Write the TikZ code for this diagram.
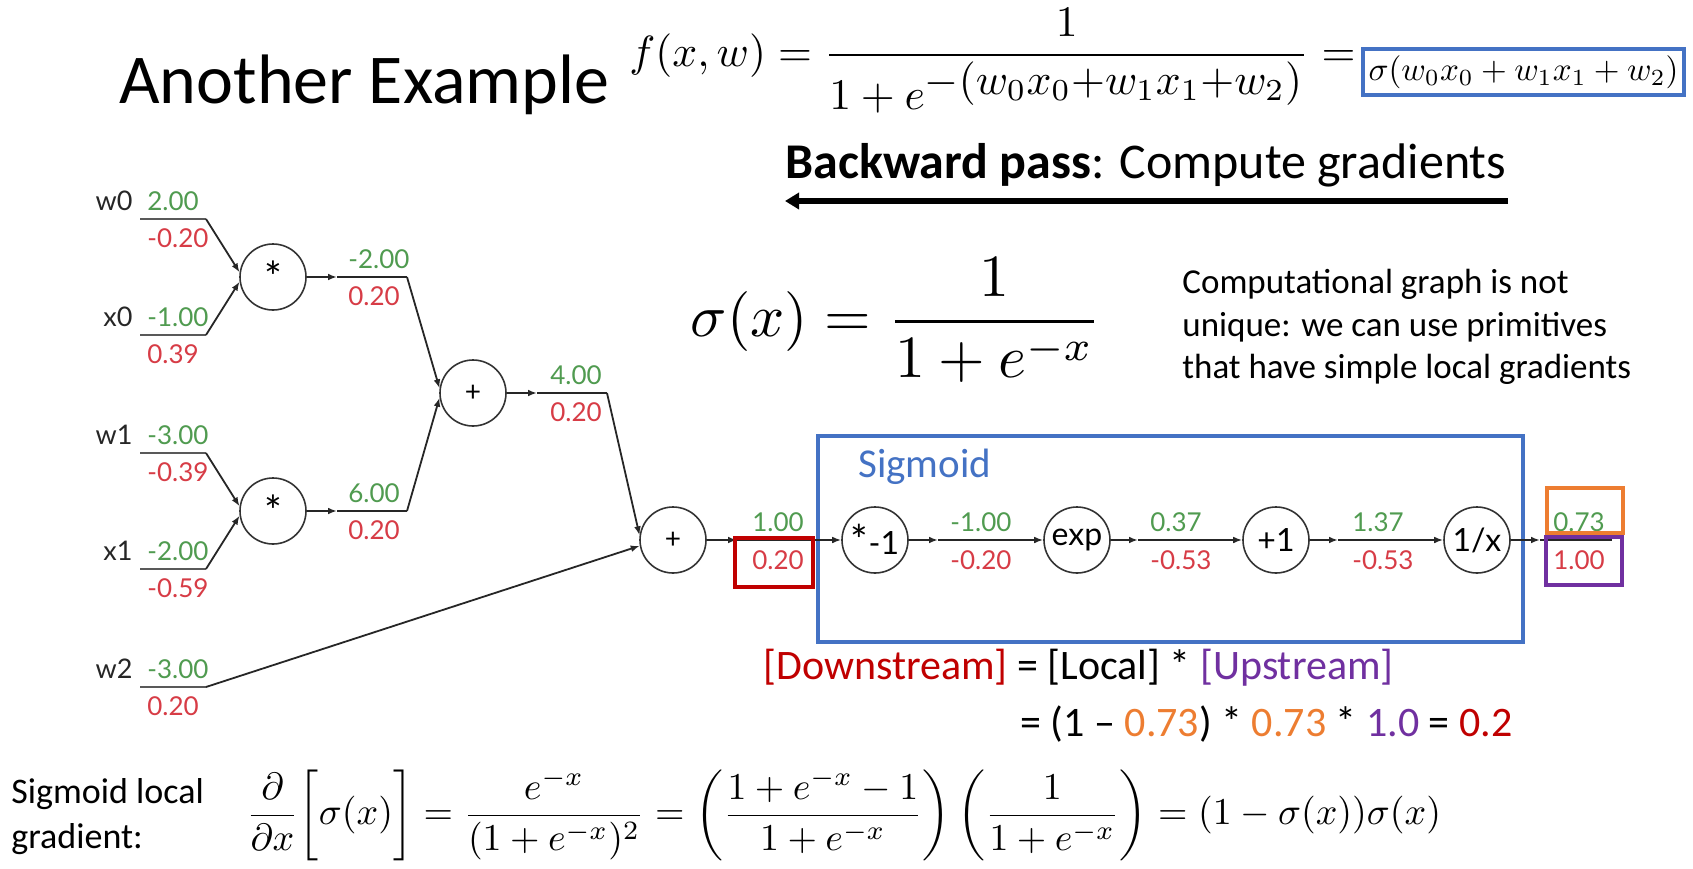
\documentclass[tikz,border=0pt]{standalone}
\usepackage{amsmath}
\usepackage{graphicx}
\usepackage[no-math]{fontspec}
\setmainfont{Carlito}
\newfontfamily\gfont{Lato}
\usetikzlibrary{arrows.meta}
\definecolor{gval}{RGB}{80,155,80}
\definecolor{rval}{RGB}{215,60,70}
\definecolor{boxblue}{RGB}{68,114,196}
\definecolor{boxred}{RGB}{192,0,0}
\definecolor{boxorange}{RGB}{237,125,49}
\definecolor{boxpurple}{RGB}{112,48,160}
\tikzset{
  opnode/.style={circle, draw=black!80, fill=white, line width=0.8pt, minimum size=33pt, inner sep=0pt, font=\gfont\fontsize{14}{14}\selectfont},
  sopnode/.style={opnode, font=\gfont\fontsize{16}{16}\selectfont},
  wire/.style={draw=black!85, line width=0.9pt},
  inwire/.style={draw=black!65, line width=1.4pt},
  arrowtip/.style={-{Latex[length=4.5pt,width=3.4pt]}},
  gv/.style={anchor=west, text=gval, font=\gfont\fontsize{13}{13}\selectfont, inner sep=0pt},
  rv/.style={gv, text=rval},
  vname/.style={anchor=east, text=black!85, font=\gfont\fontsize{13.5}{13.5}\selectfont, inner sep=0pt},
  txt/.style={anchor=base west, inner sep=0pt},
}
\newcommand{\astr}{\raisebox{-0.42em}{\scalebox{1.5}{*}}}
\begin{document}
\begin{tikzpicture}[x=0.5pt,y=-0.5pt]
\fill[white] (0,0) rectangle (1693,868);
\useasboundingbox (0,0) rectangle (1693,868);

% ---------- top texts ----------
\node[txt, font=\fontsize{35}{35}\selectfont] (title) at (119,103) {Another Example};
\node[anchor=west, inner sep=0pt] (fx) at (629,61)
  {\resizebox{363pt}{!}{$f(x,w)=\dfrac{1}{1+e^{\textstyle -(w_0x_0{+}w_1x_1{+}w_2)}}=$}};
\node[draw=boxblue, line width=2pt, inner sep=0pt, minimum width=160.5pt, minimum height=23pt] (sbox) at (1523.5,72)
  {\resizebox{155pt}{!}{$\sigma(w_0x_0+w_1x_1+w_2)$}};

\node[txt, font=\fontsize{25}{25}\selectfont] (bp) at (785,178) {\textbf{Backward pass}: Compute gradients};
\coordinate (bpr) at (1508,201);
\coordinate (bpl) at (785,201);
\draw[line width=3pt, -{Triangle[length=7pt,width=8pt]}] (bpr) -- (bpl);

\node[inner sep=0pt] (sigf) at (896,320)
  {\resizebox{205pt}{!}{$\sigma(x)=\dfrac{1}{1+e^{-x}}$}};

\node[txt, font=\fontsize{17.5}{17.5}\selectfont] (cg1) at (1182,293) {Computational graph is not};
\node[txt, font=\fontsize{17.5}{17.5}\selectfont] (cg2) at (1182,336) {unique: we can use primitives};
\node[txt, font=\fontsize{17.5}{17.5}\selectfont] (cg3) at (1182,378) {that have simple local gradients};

% ---------- boxes ----------
\draw[boxblue, line width=2.3pt] (818,436) rectangle (1523,642);
\node[txt, text=boxblue, font=\fontsize{20.5}{20.5}\selectfont] (sig) at (858,477) {Sigmoid};

% ---------- operation nodes ----------
\node[opnode] (m0) at (273,277) {\astr};
\node[opnode] (m1) at (273,511) {\astr};
\node[opnode] (p0) at (473,393) {+};
\node[opnode] (p1) at (673,540) {+};
\node[sopnode] (n1) at (875,540) {\raisebox{-0.05em}{\scalebox{1.3}{*}}-1};
\node[sopnode] (ex) at (1077,540) {exp};
\node[sopnode] (p2) at (1276,540) {+1};
\node[sopnode] (inv) at (1477,540) {1/x};

% ---------- inputs ----------
\coordinate (w0a) at (140,219); \coordinate (w0b) at (206,219);
\coordinate (x0a) at (140,335); \coordinate (x0b) at (206,335);
\coordinate (w1a) at (140,453); \coordinate (w1b) at (206,453);
\coordinate (x1a) at (140,569); \coordinate (x1b) at (206,569);
\coordinate (w2a) at (140,687); \coordinate (w2b) at (206,687);
\draw[inwire] (w0a) -- (w0b); \draw[wire,arrowtip] (w0b) -- (m0.172);
\draw[inwire] (x0a) -- (x0b); \draw[wire,arrowtip] (x0b) -- (m0.188);
\draw[inwire] (w1a) -- (w1b); \draw[wire,arrowtip] (w1b) -- (m1.172);
\draw[inwire] (x1a) -- (x1b); \draw[wire,arrowtip] (x1b) -- (m1.188);
\draw[inwire] (w2a) -- (w2b); \draw[wire,arrowtip] (w2b) -- (p1.190);

% ---------- internal edges ----------
\coordinate (m0m) at (337,277); \coordinate (m0c) at (407,277);
\coordinate (m1m) at (337,511); \coordinate (m1c) at (407,511);
\coordinate (p0m) at (537,393); \coordinate (p0c) at (607,393);
\draw[wire,arrowtip] (m0) -- (m0m); \draw[wire] (m0m) -- (m0c); \draw[wire,arrowtip] (m0c) -- (p0.172);
\draw[wire,arrowtip] (m1) -- (m1m); \draw[wire] (m1m) -- (m1c); \draw[wire,arrowtip] (m1c) -- (p0.188);
\draw[wire,arrowtip] (p0) -- (p0m); \draw[wire] (p0m) -- (p0c); \draw[wire,arrowtip] (p0c) -- (p1.172);

\coordinate (p1m) at (737,540);
\coordinate (n1m) at (938,540);
\coordinate (exm) at (1138,540);
\coordinate (p2m) at (1338,540);
\coordinate (outm) at (1540,540);
\coordinate (oute) at (1612,540);
\draw[wire,arrowtip] (p1) -- (p1m); \draw[wire,arrowtip] (p1m) -- (n1);
\draw[wire,arrowtip] (n1) -- (n1m); \draw[wire,arrowtip] (n1m) -- (ex);
\draw[wire,arrowtip] (ex) -- (exm); \draw[wire,arrowtip] (exm) -- (p2);
\draw[wire,arrowtip] (p2) -- (p2m); \draw[wire,arrowtip] (p2m) -- (inv);
\draw[wire,arrowtip] (inv) -- (outm); \draw[wire] (outm) -- (oute);

% ---------- value labels ----------
\node[vname] (lw0) at (133,201) {w0}; \node[gv] (gw0) at (147,201) {2.00};  \node[rv] (rw0) at (147,238) {-0.20};
\node[vname] (lx0) at (133,317) {x0}; \node[gv] (gx0) at (147,317) {-1.00}; \node[rv] (rx0) at (147,354) {0.39};
\node[vname] (lw1) at (133,435) {w1}; \node[gv] (gw1) at (147,435) {-3.00}; \node[rv] (rw1) at (147,472) {-0.39};
\node[vname] (lx1) at (133,551) {x1}; \node[gv] (gx1) at (147,551) {-2.00}; \node[rv] (rx1) at (147,588) {-0.59};
\node[vname] (lw2) at (133,669) {w2}; \node[gv] (gw2) at (147,669) {-3.00}; \node[rv] (rw2) at (147,706) {0.20};

\node[gv] (gm0) at (348,259) {-2.00}; \node[rv] (rm0) at (348,296) {0.20};
\node[gv] (gm1) at (348,493) {6.00};  \node[rv] (rm1) at (348,530) {0.20};
\node[gv] (gp0) at (550,375) {4.00};  \node[rv] (rp0) at (550,412) {0.20};
\node[gv] (gp1) at (752,522) {1.00};  \node[rv] (rp1) at (752,560) {0.20};
\node[gv] (gn1) at (950,522) {-1.00}; \node[rv] (rn1) at (950,560) {-0.20};
\node[gv] (gex) at (1150,522) {0.37}; \node[rv] (rex) at (1150,560) {-0.53};
\node[gv] (gp2) at (1352,522) {1.37}; \node[rv] (rp2) at (1352,560) {-0.53};
\node[gv] (ginv) at (1553,522) {0.73}; \node[rv] (rinv) at (1553,560) {1.00};

% ---------- highlight boxes ----------
\draw[boxred, line width=2pt] (735,538) rectangle (813,587);
\draw[boxorange, line width=2pt] (1547,488) rectangle (1623,533);
\draw[boxpurple, line width=2pt] (1546,537) rectangle (1622,585);

% ---------- chain rule text ----------
\node[txt, font=\fontsize{21}{21}\selectfont] (ds) at (763,679)
  {\textcolor{boxred}{[Downstream]} = [Local] * \textcolor{boxpurple}{[Upstream]}};
\node[txt, font=\fontsize{21}{21}\selectfont] (ds2) at (1020,736)
  {= (1 – \textcolor{boxorange}{0.73}) * \textcolor{boxorange}{0.73} * \textcolor{boxpurple}{1.0} = \textcolor{boxred}{0.2}};

% ---------- bottom ----------
\node[txt, font=\fontsize{18}{18}\selectfont] (sl1) at (11,803) {Sigmoid local};
\node[txt, font=\fontsize{18}{18}\selectfont] (sl2) at (11,848) {gradient:};
\node[inner sep=0pt] (bform) at (843.5,815)
  {\resizebox{597.5pt}{!}{$\dfrac{\partial}{\partial x}\biggl[\sigma(x)\biggr]=\dfrac{e^{-x}}{(1+e^{-x})^2}=\left(\dfrac{1+e^{-x}-1}{1+e^{-x}}\right)\left(\dfrac{1}{1+e^{-x}}\right)=(1-\sigma(x))\sigma(x)$}};
\end{tikzpicture}
\end{document}
